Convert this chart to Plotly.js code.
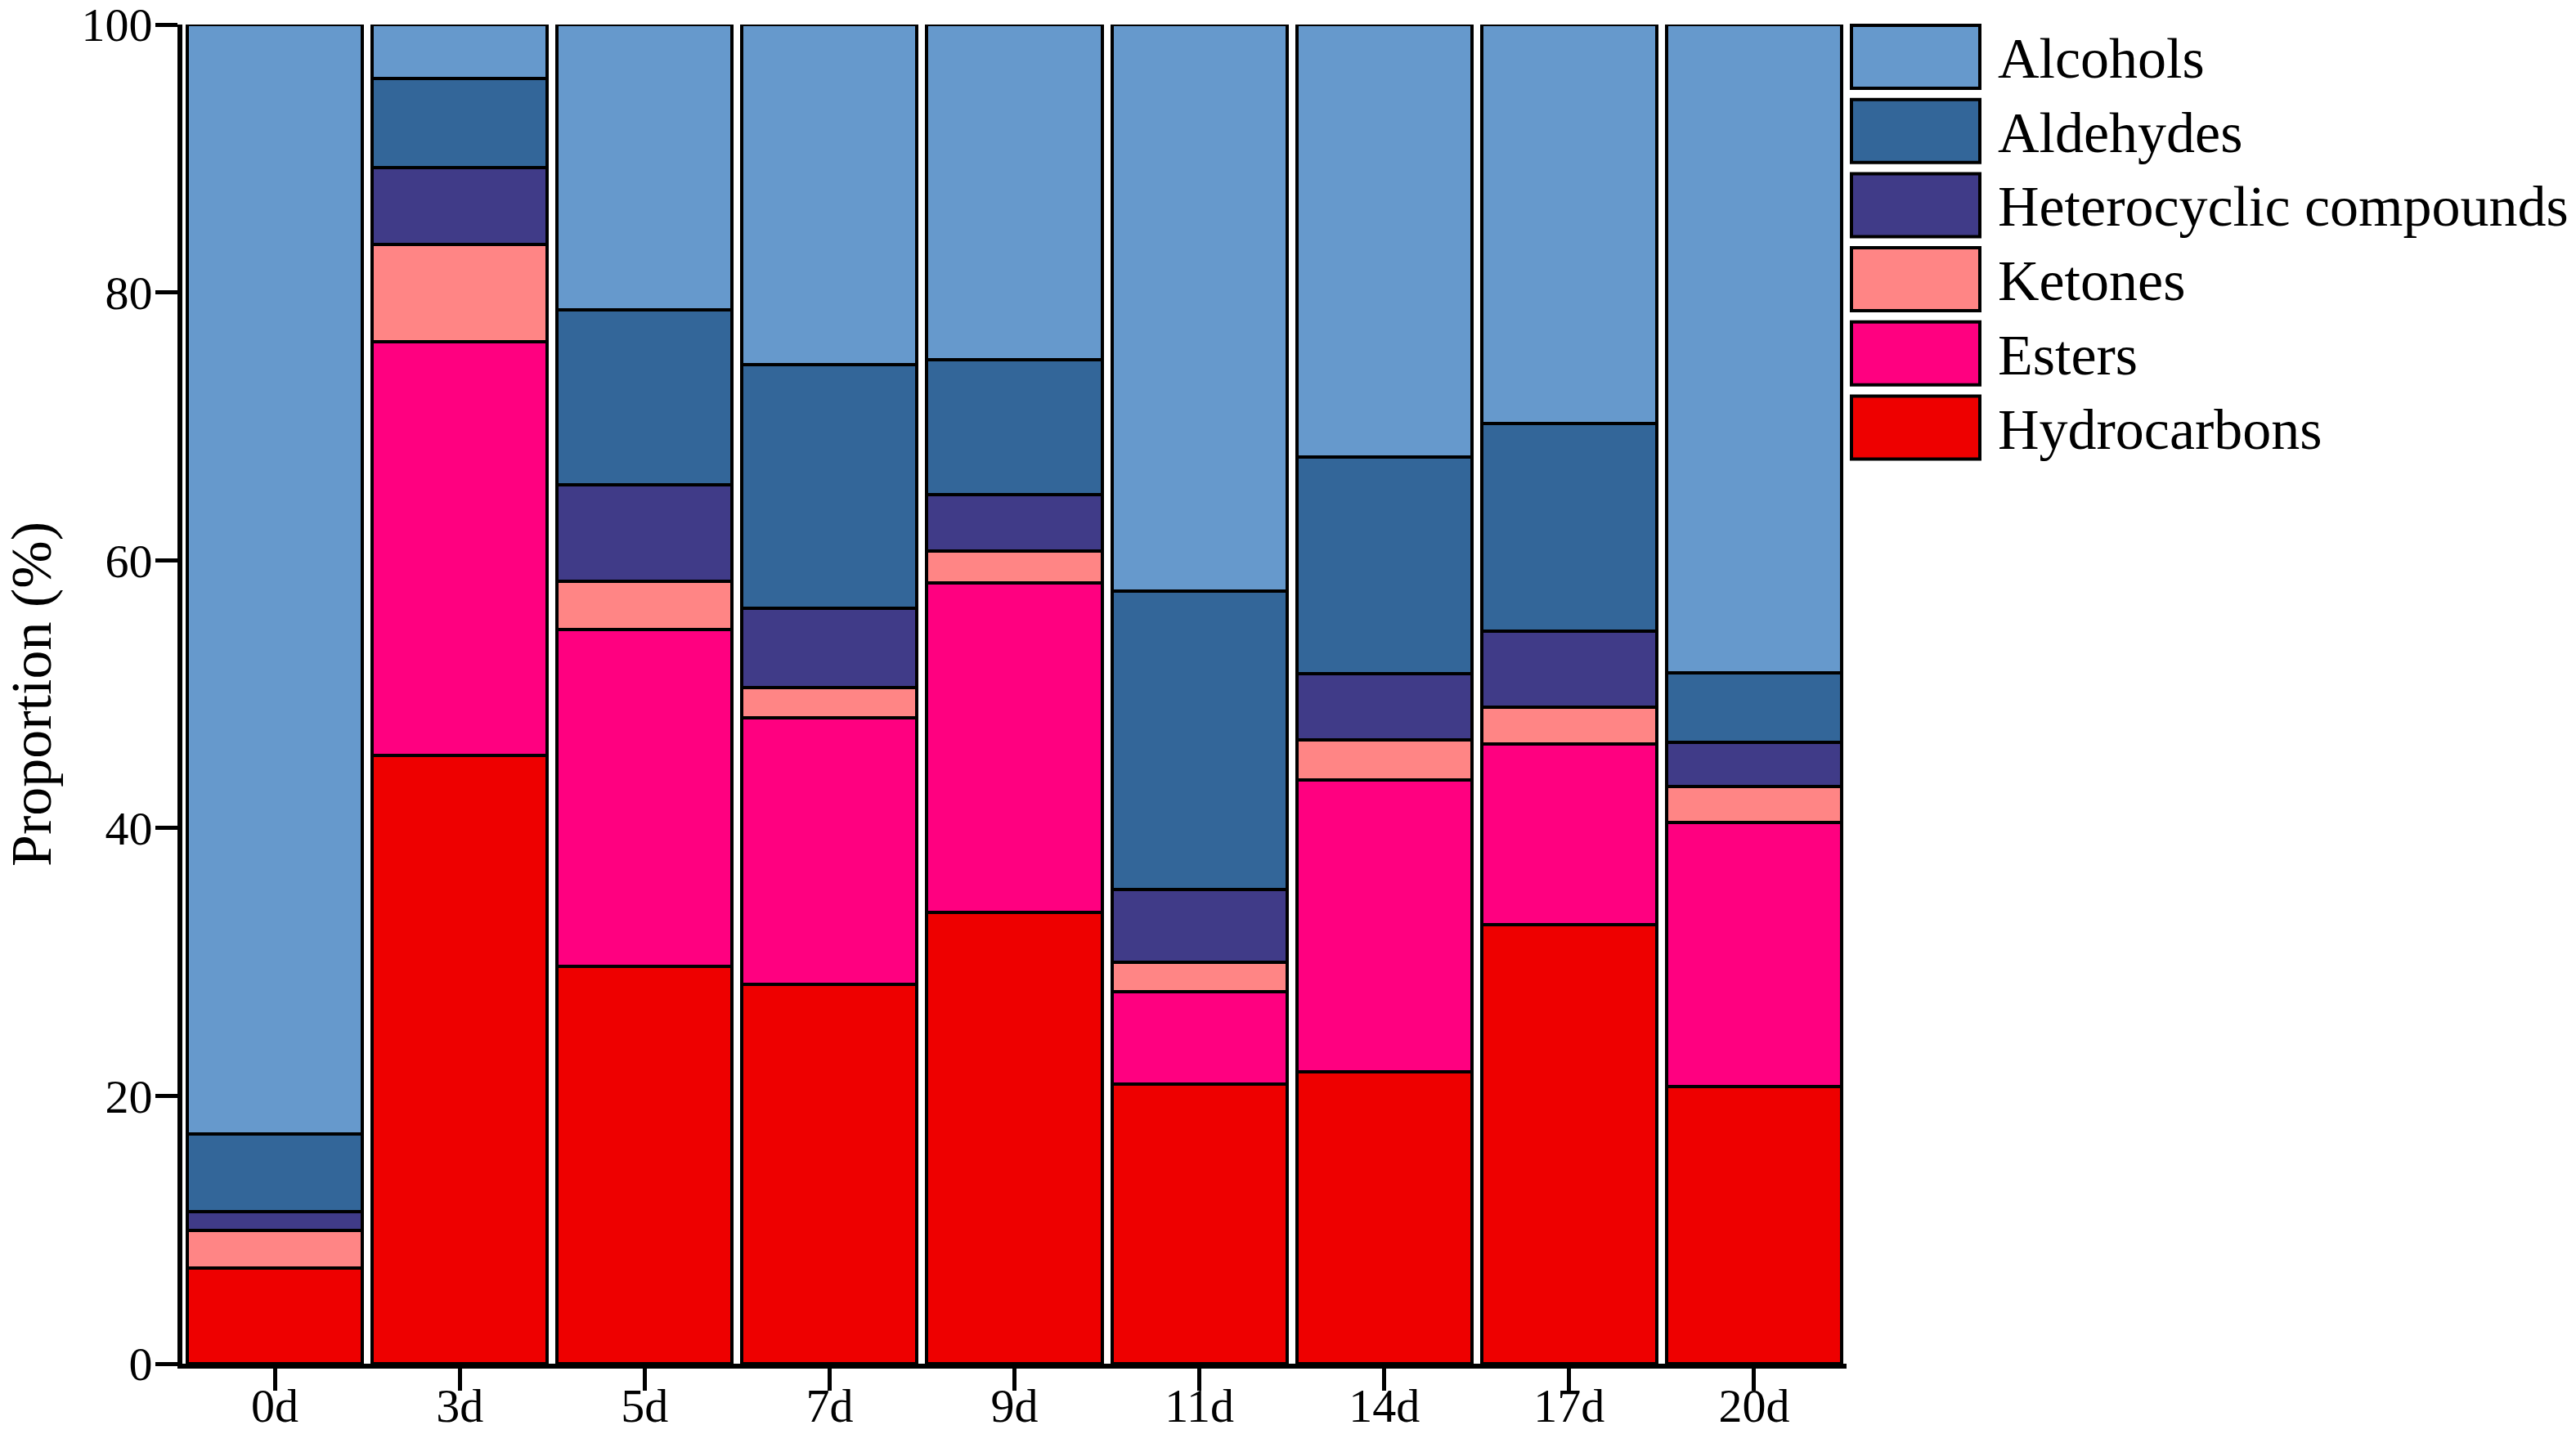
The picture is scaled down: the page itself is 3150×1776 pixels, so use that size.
<!DOCTYPE html>
<html>
<head>
<meta charset="utf-8">
<script src="https://cdn.plot.ly/plotly-3.0.1.min.js"></script>
<style>html,body{margin:0;padding:0;background:#fff;}#chart{width:3150px;height:1776px;}</style>
</head>
<body>
<div id="chart"></div>
<script>
// ---- data ----
const days = ["0d","3d","5d","7d","9d","11d","14d","17d","20d"];
const hydrocarbons = [7.15, 45.45, 29.7, 28.3, 33.7, 20.9, 21.8, 32.8, 20.7];
const esters       = [0.0, 30.85, 25.1, 19.9, 24.6, 6.9, 21.8, 13.5, 19.7];
const ketones      = [2.8, 7.3, 3.6, 2.3, 2.4, 2.2, 3.0, 2.7, 2.7];
const heterocyclic = [1.4, 5.7, 7.2, 5.9, 4.2, 5.4, 4.9, 5.7, 3.3];
const aldehydes    = [5.8, 6.7, 13.1, 18.2, 10.1, 22.3, 16.2, 15.5, 5.2];
const alcohols     = [82.85, 4.0, 21.3, 25.4, 25.0, 42.3, 32.3, 29.8, 48.4];
const yTicks = [0, 20, 40, 60, 80, 100];

// stacking order bottom -> top
const seriesNames = ["Hydrocarbons","Esters","Ketones","Heterocyclic compounds","Aldehydes","Alcohols"];
const seriesValues = [hydrocarbons, esters, ketones, heterocyclic, aldehydes, alcohols];
const seriesColors = ["#EE0000","#FF0080","#FF8585","#403B88","#336699","#6699CC"];

const FONT = "Liberation Serif, Times New Roman, serif";

const traces = seriesNames.map((n, i) => ({
  type: "bar",
  name: n,
  x: days,
  y: seriesValues[i],
  marker: {color: seriesColors[i], line: {color: "#000", width: 4}},
  showlegend: false,
  hoverinfo: "x+y+name"
}));

// plot area in pixels
const L = 223, R = 2258, T = 30, B = 1668;
const W = 3150, H = 1776;
const px2x = p => (p - L) / (R - L);
const px2y = p => (B - p) / (B - T);

// custom legend (top-down: Alcohols ... Hydrocarbons)
const shapes = [];
const annotations = [];
const legendOrder = seriesNames.map((n, i) => i).reverse();
legendOrder.forEach((si, k) => {
  const top = 31 + k * 90.7, bot = top + 77;
  shapes.push({
    type: "rect", xref: "paper", yref: "paper",
    x0: px2x(2264), x1: px2x(2421), y0: px2y(bot), y1: px2y(top),
    fillcolor: seriesColors[si], line: {color: "#000", width: 4}
  });
  annotations.push({
    xref: "paper", yref: "paper", x: px2x(2441), y: px2y((top + bot) / 2 + 2),
    xanchor: "left", yanchor: "middle", showarrow: false,
    text: seriesNames[si], font: {family: FONT, size: 70, color: "#000"}
  });
});

const layout = {
  width: W, height: H,
  margin: {l: L, r: W - R, t: T, b: H - B, pad: 0},
  paper_bgcolor: "#fff", plot_bgcolor: "#fff",
  barmode: "stack",
  bargap: 0.053,
  showlegend: false,
  xaxis: {
    type: "category",
    range: [-0.5, 8.5],
    showgrid: false, zeroline: false,
    showline: true, linecolor: "#000", linewidth: 6,
    ticks: "outside", ticklen: 27, tickwidth: 5, tickcolor: "#000",
    ticklabelstandoff: -32,
    ticklabeloverflow: "allow",
    tickfont: {family: FONT, size: 58, color: "#000"},
    fixedrange: true
  },
  yaxis: {
    range: [0, 100],
    tickvals: yTicks,
    ticktext: yTicks.map(String),
    showgrid: false, zeroline: false,
    showline: true, linecolor: "#000", linewidth: 6,
    ticks: "outside", ticklen: 27, tickwidth: 5, tickcolor: "#000",
    ticklabelstandoff: -8,
    ticklabeloverflow: "allow",
    tickfont: {family: FONT, size: 58, color: "#000"},
    title: {text: "Proportion (%)", font: {family: FONT, size: 70, color: "#000"}, standoff: 40},
    fixedrange: true
  },
  shapes: shapes,
  annotations: annotations
};

Plotly.newPlot("chart", traces, layout, {displayModeBar: false, staticPlot: true});
</script>
</body>
</html>
